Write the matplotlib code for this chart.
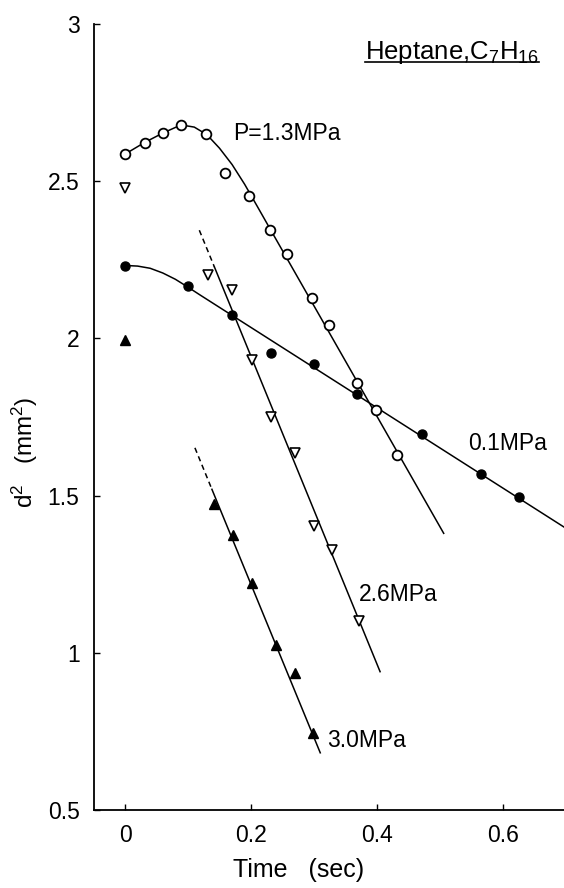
import matplotlib
matplotlib.use("Agg")
import matplotlib.pyplot as plt
from matplotlib.lines import Line2D

plt.rcParams['font.family'] = ['Liberation Sans', 'DejaVu Sans']
plt.rcParams['mathtext.fontset'] = 'custom'
plt.rcParams['mathtext.rm'] = 'Liberation Sans'
plt.rcParams['mathtext.it'] = 'Liberation Sans'

# ---- data ----
# P = 1.3 MPa (open circles)
t_13 = [0, 0.031, 0.060, 0.089, 0.129, 0.159, 0.197, 0.231, 0.257, 0.297, 0.324, 0.369, 0.398, 0.432]
d_13 = [2.586, 2.623, 2.653, 2.679, 2.649, 2.526, 2.453, 2.344, 2.268, 2.128, 2.042, 1.857, 1.772, 1.628]
fit_13_t = [0.0, 0.031, 0.060, 0.089, 0.11, 0.13, 0.15, 0.17, 0.19, 0.21, 0.231, 0.506]
fit_13_d = [2.586, 2.623, 2.653, 2.679, 2.672, 2.648, 2.605, 2.553, 2.490, 2.420, 2.346, 1.380]

# P = 0.1 MPa (filled circles)
t_01 = [0, 0.0995, 0.170, 0.232, 0.2995, 0.369, 0.471, 0.566, 0.626]
d_01 = [2.231, 2.167, 2.075, 1.953, 1.919, 1.824, 1.695, 1.568, 1.494]
fit_01_t = [0.0, 0.02, 0.04, 0.06, 0.08, 0.10, 0.12, 0.697]
fit_01_d = [2.232, 2.230, 2.223, 2.208, 2.188, 2.163, 2.137, 1.400]

# P = 2.6 MPa (open down-triangles)
t_26 = [0, 0.131, 0.170, 0.201, 0.232, 0.270, 0.300, 0.329, 0.371]
d_26 = [2.477, 2.201, 2.153, 1.931, 1.750, 1.634, 1.403, 1.327, 1.102]
fit_26_dash_t = [0.118, 0.142]
fit_26_dash_d = [2.344, 2.227]
fit_26_t = [0.142, 0.405]
fit_26_d = [2.227, 0.940]

# P = 3.0 MPa (filled up-triangles)
t_30 = [0, 0.142, 0.172, 0.201, 0.239, 0.270, 0.298]
d_30 = [1.994, 1.473, 1.374, 1.221, 1.025, 0.935, 0.744]
fit_30_dash_t = [0.111, 0.138]
fit_30_dash_d = [1.652, 1.520]
fit_30_t = [0.138, 0.310]
fit_30_d = [1.520, 0.682]

x_ticks = [0, 0.2, 0.4, 0.6]
x_ticklabels = ['0', '0.2', '0.4', '0.6']
y_ticks = [0.5, 1, 1.5, 2, 2.5, 3]
y_ticklabels = ['0.5', '1', '1.5', '2', '2.5', '3']

# ---- figure ----
fig = plt.figure(figsize=(5.64, 8.88), dpi=100)
ax = fig.add_axes([0.1658, 0.0878, 1.0 - 0.1658, 0.973 - 0.0878])
ax.set_xlim(-0.05, 0.697)
ax.set_ylim(0.5, 3.0)

for s in ['top', 'right']:
    ax.spines[s].set_visible(False)
for s in ['left', 'bottom']:
    ax.spines[s].set_linewidth(1.3)

lw = 1.1
ax.plot(fit_13_t, fit_13_d, color='black', lw=lw, zorder=2)
ax.plot(fit_01_t, fit_01_d, color='black', lw=lw, zorder=2)
ax.plot(fit_26_t, fit_26_d, color='black', lw=lw, zorder=2)
ax.plot(fit_26_dash_t, fit_26_dash_d, color='black', lw=lw, ls=(0, (3.5, 2.5)), zorder=2)
ax.plot(fit_30_t, fit_30_d, color='black', lw=lw, zorder=2)
ax.plot(fit_30_dash_t, fit_30_dash_d, color='black', lw=lw, ls=(0, (3.5, 2.5)), zorder=2)

ax.plot(t_13, d_13, ls='none', marker='o', ms=7, mfc='white', mec='black', mew=1.3, zorder=3)
ax.plot(t_01, d_01, ls='none', marker='o', ms=6.5, mfc='black', mec='black', mew=1.0, zorder=3)
ax.plot(t_26, d_26, ls='none', marker='v', ms=6.5, mfc='white', mec='black', mew=1.2, zorder=3)
ax.plot(t_30, d_30, ls='none', marker='^', ms=7, mfc='black', mec='black', mew=1.0, zorder=3)

ax.set_xticks(x_ticks)
ax.set_xticklabels(x_ticklabels)
ax.set_yticks(y_ticks)
ax.set_yticklabels(y_ticklabels)
ax.tick_params(direction='in', length=4, width=1.0, labelsize=16.5, pad=10)

ax.set_xlabel('Time   (sec)', fontsize=18, va='center')
ax.xaxis.set_label_coords(0.4368, -0.0763)
ax.set_ylabel('d$^2$   (mm$^2$)', fontsize=17.5, va='center', ha='center')
ax.yaxis.set_label_coords(-0.1456, 0.455)

fs = 16.5
ax.text(0.171, 2.653, 'P=1.3MPa', fontsize=fs, ha='left', va='center')
ax.text(0.544, 1.667, '0.1MPa', fontsize=fs, ha='left', va='center')
ax.text(0.371, 1.184, '2.6MPa', fontsize=fs, ha='left', va='center')
ax.text(0.321, 0.722, '3.0MPa', fontsize=fs, ha='left', va='center')
title = ax.text(0.381, 2.888, 'Heptane,C$_7$H$_{16}$', fontsize=18.5, ha='left', va='baseline')

fig.canvas.draw()
bb = title.get_window_extent(renderer=fig.canvas.get_renderer())
W, H = fig.bbox.width, fig.bbox.height
y_ul = (H - 62) / H
fig.add_artist(Line2D([bb.x0 / W, bb.x1 / W], [y_ul, y_ul], color='black', lw=1.2))

fig.savefig('out.png', dpi=100)
